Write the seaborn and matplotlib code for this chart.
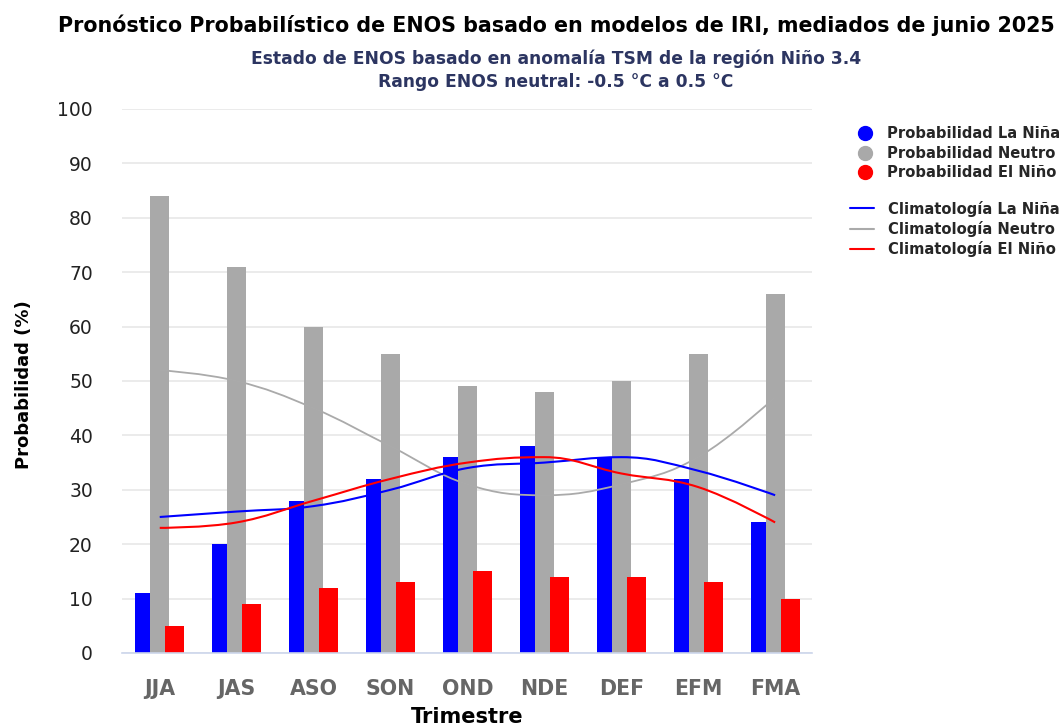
#!/usr/bin/env python3
"""
ENOS probabilistic forecast (IRI, mid-June 2025) - bars + climatology splines
"""

import matplotlib
matplotlib.use('Agg')
import matplotlib.pyplot as plt
from matplotlib.path import Path
from matplotlib.patches import PathPatch
from matplotlib.lines import Line2D
import numpy as np
import seaborn as sns

# Data
trimestres = ['JJA', 'JAS', 'ASO', 'SON', 'OND', 'NDE', 'DEF', 'EFM', 'FMA']
prob_nina = [11, 20, 28, 32, 36, 38, 36, 32, 24]
prob_neutro = [84, 71, 60, 55, 49, 48, 50, 55, 66]
prob_nino = [5, 9, 12, 13, 15, 14, 14, 13, 10]
clim_nina = [25, 26, 27, 30, 34, 35, 36, 33.5, 29]
clim_neutro = [52, 50, 45, 38, 31, 29, 31, 36, 47]
clim_nino = [23, 24, 28, 32, 35, 36, 33, 30.5, 24]

AZUL = '#0000ff'
GRIS = '#a9a9a9'
ROJO = '#ff0000'


def spline_path(xs, ys, smoothing=1.5):
    """Bezier path like the Highcharts 'spline' series"""
    denom = smoothing + 1
    n = len(xs)
    lc = [(xs[i], ys[i]) for i in range(n)]
    rc = [(xs[i], ys[i]) for i in range(n)]
    for i in range(1, n - 1):
        px, py = xs[i], ys[i]
        lx, ly = xs[i - 1], ys[i - 1]
        nx, ny = xs[i + 1], ys[i + 1]
        lcx = (smoothing * px + lx) / denom
        lcy = (smoothing * py + ly) / denom
        rcx = (smoothing * px + nx) / denom
        rcy = (smoothing * py + ny) / denom
        if rcx != lcx:
            corr = (rcy - lcy) * (rcx - px) / (rcx - lcx) + py - rcy
            lcy += corr
            rcy += corr
        if lcy > ly and lcy > py:
            lcy = max(ly, py)
            rcy = 2 * py - lcy
        elif lcy < ly and lcy < py:
            lcy = min(ly, py)
            rcy = 2 * py - lcy
        if rcy > ny and rcy > py:
            rcy = max(ny, py)
            lcy = 2 * py - rcy
        elif rcy < ny and rcy < py:
            rcy = min(ny, py)
            lcy = 2 * py - rcy
        lc[i] = (lcx, lcy)
        rc[i] = (rcx, rcy)
    verts = [(xs[0], ys[0])]
    codes = [Path.MOVETO]
    for i in range(1, n):
        verts += [rc[i - 1], lc[i], (xs[i], ys[i])]
        codes += [Path.CURVE4] * 3
    return Path(verts, codes)


sns.set_theme(style='white')
plt.rcParams['font.family'] = ['DejaVu Sans']

fig = plt.figure(figsize=(10.64, 7.27), dpi=100)
ax = fig.add_axes([0.1147, 0.1018, 0.6485, 0.7483])

pos = np.arange(len(trimestres))
ancho = 0.247
desp = 0.195

# bars: blue first, gray over it, red on top
for vals, off, col, z in [(prob_nina, -desp, AZUL, 2),
                          (prob_neutro, 0.0, GRIS, 3),
                          (prob_nino, desp, ROJO, 4)]:
    sns.barplot(x=pos + off, y=vals, native_scale=True, orient='x',
                width=ancho, color=col, saturation=1, errorbar=None,
                linewidth=0, zorder=z, ax=ax)

# climatology splines
for vals, col, lw in [(clim_neutro, '#aaaaaa', 1.3),
                      (clim_nina, AZUL, 1.5),
                      (clim_nino, ROJO, 1.5)]:
    patch = PathPatch(spline_path(pos.astype(float), vals), facecolor='none',
                      edgecolor=col, lw=lw, zorder=5)
    ax.add_patch(patch)

ax.set_xlim(-0.49, 8.48)
ax.set_ylim(0, 100)
ax.set_yticks(np.arange(0, 101, 10))
ax.set_xticks(pos)
ax.set_xticklabels(trimestres)

ax.grid(axis='y', color='#e6e6e6', lw=1.1, zorder=0)
ax.grid(axis='x', visible=False)
ax.set_axisbelow(True)
for s in ['top', 'right', 'left']:
    ax.spines[s].set_visible(False)
ax.spines['bottom'].set_color('#ccd6eb')
ax.spines['bottom'].set_linewidth(1.2)
ax.spines['bottom'].set_zorder(6)

ax.tick_params(axis='y', length=0, pad=21, labelsize=13.5, labelcolor='#222222')
ax.tick_params(axis='x', length=0, pad=18.5, labelsize=14.8, labelcolor='#666666')
for lab in ax.get_xticklabels():
    lab.set_fontweight('bold')

ax.set_xlabel('Trimestre', fontsize=15, fontweight='bold', color='black')
ax.xaxis.set_label_coords(0.5, -0.1)
ax.set_ylabel('Probabilidad (%)', fontsize=13, fontweight='bold', color='black')
ax.yaxis.set_label_coords(-0.129, 0.493)

# titles
fig.text(0.5226, 0.9656, 'Pronóstico Probabilístico de ENOS basado en modelos de IRI, mediados de junio 2025',
         ha='center', va='center', fontsize=14.85, fontweight='bold', color='black')
fig.text(0.5226, 0.9188, 'Estado de ENOS basado en anomalía TSM de la región Niño 3.4',
         ha='center', va='center', fontsize=12.3, fontweight='bold', color='#2c3561')
fig.text(0.5226, 0.8872, 'Rango ENOS neutral: -0.5 °C a 0.5 °C',
         ha='center', va='center', fontsize=12.3, fontweight='bold', color='#2c3561')

# legends
h_prob = [Line2D([], [], ls='none', marker='o', ms=10, color=c, mec=c)
          for c in (AZUL, GRIS, ROJO)]
leg1 = fig.legend(h_prob, ['Probabilidad La Niña', 'Probabilidad Neutro', 'Probabilidad El Niño'],
                  loc='upper left', bbox_to_anchor=(0.799, 0.826), frameon=False,
                  borderpad=0, borderaxespad=0, handlelength=2.0, handletextpad=0.5,
                  labelspacing=0.3, prop={'weight': 'bold', 'size': 10.6})
h_clim = [Line2D([], [], color=c, lw=1.5) for c in (AZUL, '#aaaaaa', ROJO)]
leg2 = fig.legend(h_clim, ['Climatología La Niña', 'Climatología Neutro', 'Climatología El Niño'],
                  loc='upper left', bbox_to_anchor=(0.799, 0.724), frameon=False,
                  borderpad=0, borderaxespad=0, handlelength=1.6, handletextpad=1.0,
                  labelspacing=0.3, prop={'weight': 'bold', 'size': 10.6})

fig.savefig('out.png', dpi=100)
plt.close(fig)
